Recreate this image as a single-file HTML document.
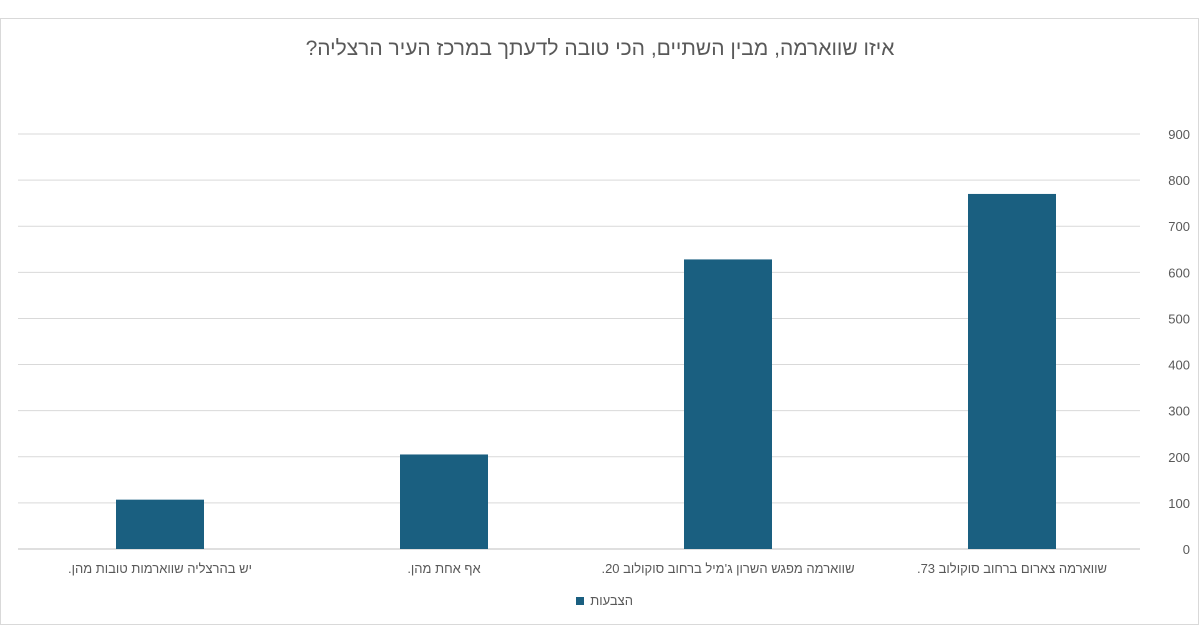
<!DOCTYPE html>
<html><head><meta charset="utf-8">
<style>
body{margin:0;background:#fff;width:1200px;height:638px;overflow:hidden}
svg{display:block}
text{font-family:"Liberation Sans","DejaVu Sans",sans-serif;fill:#595959}
</style></head>
<body>
<svg width="1200" height="638">
<rect x="0.5" y="18.5" width="1198" height="606" fill="#fff" stroke="#d9d9d9"/>
<text x="600" y="55" font-size="21" text-anchor="middle" direction="rtl">איזו שווארמה, מבין השתיים, הכי טובה לדעתך במרכז העיר הרצליה?</text>
<g id="grid"></g><g id="bars"></g><g id="labels"></g>
<rect x="576" y="597" width="8" height="8" fill="#1a5f80"/>
<text x="633" y="605" font-size="13" text-anchor="end">הצבעות</text>
</svg>
<script>
const categories=["יש בהרצליה שווארמות טובות מהן.","אף אחת מהן.","שווארמה מפגש השרון ג'מיל ברחוב סוקולוב 20.","שווארמה צארום ברחוב סוקולוב 73."];
const values=[107,205,628,770];
const ticks=[0,100,200,300,400,500,600,700,800,900];
const NS="http://www.w3.org/2000/svg";
const x0=18,x1=1140,yZero=549,yTop=134,maxV=900;
const y=v=>yZero-(v/maxV)*(yZero-yTop);
const band=284;
const xc=i=>18+band*(i+0.5);
function mk(t,a,p){const e=document.createElementNS(NS,t);for(const k in a)e.setAttribute(k,a[k]);p.appendChild(e);return e;}
const g=document.getElementById('grid');
ticks.forEach(t=>{
 const l=mk('line',{x1:x0,x2:x1,y1:y(t),y2:y(t),stroke:t===0?'#bfbfbf':'#d9d9d9','stroke-width':1},g);
 
 
 const tx=mk('text',{x:1190,y:y(t)+5,'font-size':13,'text-anchor':'end'},g);
 tx.textContent=t;
 
 
});
const b=document.getElementById('bars'),lb=document.getElementById('labels');
values.forEach((v,i)=>{
 const r=mk('rect',{x:xc(i)-44,y:y(v),width:88,height:yZero-y(v),fill:'#1a5f80'},b);
 
 
 const t=mk('text',{x:xc(i),y:573,'font-size':13,'text-anchor':'middle',direction:'rtl'},lb);
 t.textContent=categories[i];
 
 
});
</script>
</body></html>
